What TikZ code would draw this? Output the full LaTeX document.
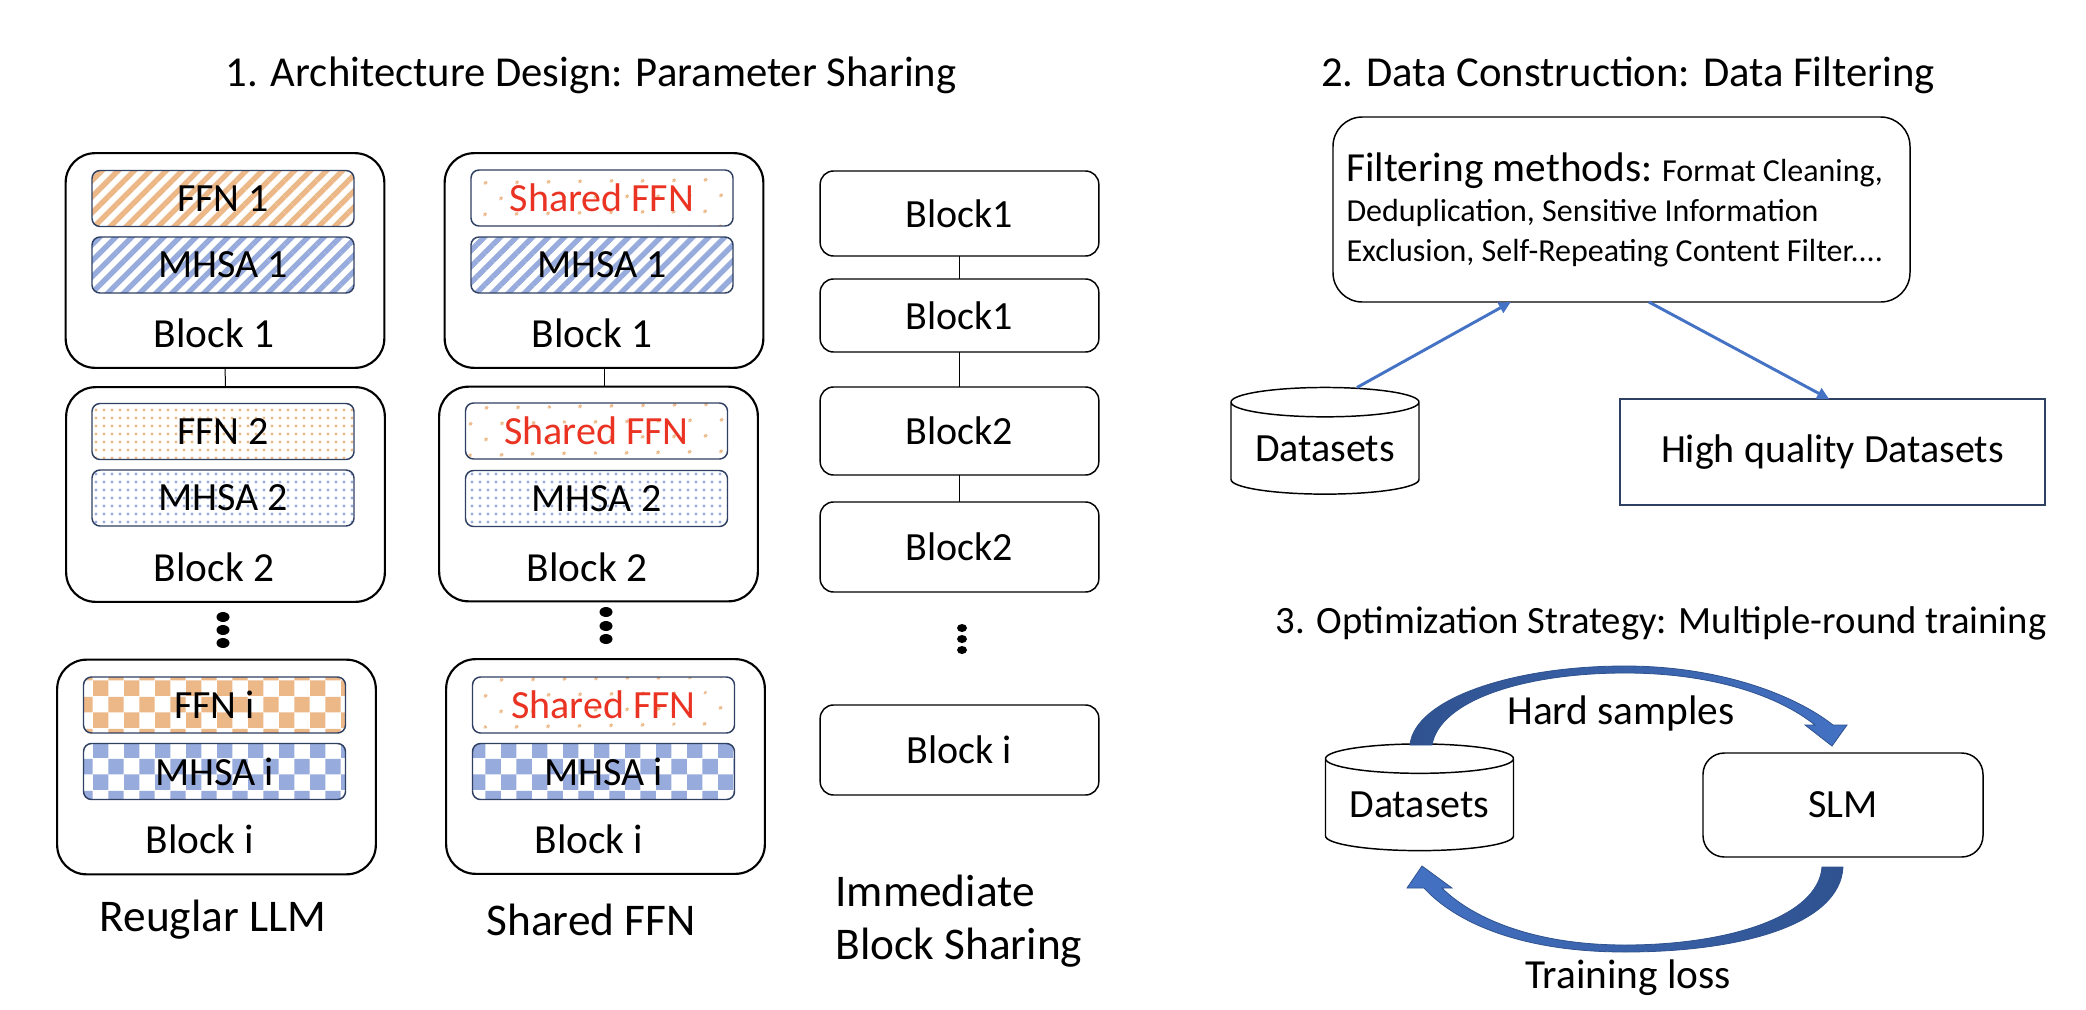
\documentclass[tikz,border=0pt]{standalone}
\usepackage{fontspec}
\setmainfont{Carlito}
\usetikzlibrary{arrows.meta,patterns.meta,shapes.geometric}

\definecolor{ffnorange}{RGB}{237,184,136}
\definecolor{mhsablue}{RGB}{151,171,221}
\definecolor{boxnavy}{RGB}{47,64,98}
\definecolor{sharedred}{RGB}{234,51,35}
\definecolor{arrowblue}{RGB}{68,114,196}
\definecolor{arrowdark}{RGB}{47,82,143}

\tikzdeclarepattern{
  name=bigchecks,
  type=uncolored,
  bottom left={(0pt,0pt)},
  top right={(23.5pt,23.5pt)},
  tile size={(23.5pt,23.5pt)},
  code={
    \fill (0pt,0pt) rectangle (11.75pt,11.75pt);
    \fill (11.75pt,11.75pt) rectangle (23.5pt,23.5pt);
  }
}

\tikzset{every picture/.style={line width=0.75pt}}
\tikzset{
  blockbox/.style={draw=black, line width=1.6pt, rounded corners=22pt, minimum width=239pt, minimum height=161pt, inner sep=0pt, outer sep=0pt},
  layerbox/.style={draw=boxnavy, line width=1.1pt, rounded corners=6pt, minimum width=196.5pt, minimum height=42pt, inner sep=0pt, outer sep=0pt, font=\fontsize{30}{36}\selectfont},
  stripes/.style={pattern={Lines[angle=45,distance=8.5pt,line width=4pt]}},
  finedots/.style={pattern={Dots[distance=6pt,radius=1.3pt]}},
  sparsedots/.style={pattern={Dots[angle=45,distance=17pt,radius=1.4pt]}},
  checks/.style={pattern=bigchecks},
  stackbox/.style={draw=black, line width=1.1pt, rounded corners=10pt, minimum width=209pt, inner sep=0pt, outer sep=0pt, font=\fontsize{30}{36}\selectfont},
  dbcan/.style={cylinder, shape border rotate=90, aspect=0.21, draw=black, line width=1.1pt, fill=white, minimum width=141pt, minimum height=80pt, inner sep=0pt, outer sep=0pt, font=\fontsize{30}{36}\selectfont},
  blocktxt/.style={inner sep=0.75pt, font=\fontsize{31}{36}\selectfont},
  captxt/.style={inner sep=0.75pt, font=\fontsize{34}{40}\selectfont},
  headtxt/.style={inner sep=0.75pt, font=\fontsize{32}{38}\selectfont},
  smalltxt/.style={inner sep=0.75pt, font=\fontsize{24}{30}\selectfont},
  flowarrow/.style={draw=arrowblue, line width=2.2pt, -{Triangle[length=9pt,width=8.5pt]}}
}

\begin{document}
\begin{tikzpicture}[x=0.75pt,y=0.75pt,yscale=-1,xscale=1]
%set diagram left start at 0, and has size of 2086 x 1010
\useasboundingbox[fill=white] (0,0) rectangle (2086,1010);

% Text Node
\node (t1) [headtxt] at (591,75) {1. Architecture Design: Parameter Sharing};
% Text Node
\node (t2) [headtxt] at (1628,75) {2. Data Construction: Data Filtering};
% Text Node
\node (t3) [headtxt, anchor=east, font=\fontsize{29}{36}\selectfont] at (2048,623) {3. Optimization Strategy: Multiple-round training};

%Rounded Rect [id:lb1]
\node (lb1) [blockbox] at (225,260.5) {};
\node (lffn1) [layerbox, stripes, pattern color=ffnorange] at (223,198.5) {FFN 1};
\node (lmhsa1) [layerbox, stripes, pattern color=mhsablue] at (223,265) {MHSA 1};
\node (lb1t) [blocktxt] at (214,333) {Block 1};
%Rounded Rect [id:lb2]
\node (lb2) [blockbox] at (225.5,494.5) {};
\node (lffn2) [layerbox, finedots, pattern color=ffnorange] at (223,431.5) {FFN 2};
\node (lmhsa2) [layerbox, finedots, pattern color=mhsablue] at (223,498) {MHSA 2};
\node (lb2t) [blocktxt] at (214,567) {Block 2};
%Rounded Rect [id:lbi]
\node (lbi) [blockbox] at (216.5,767) {};
\node (lffni) [layerbox, checks, pattern color=ffnorange] at (214.5,705) {FFN i};
\node (lmhsai) [layerbox, checks, pattern color=mhsablue] at (214.5,771.5) {MHSA i};
\node (lbit) [blocktxt] at (200,839) {Block i};
%Straight Lines
\draw (lb1) -- (lb2);
%Shape: Ellipse
\fill (223,617) ellipse [x radius=6.5, y radius=5];
\fill (223,630) ellipse [x radius=6.5, y radius=5];
\fill (223,643) ellipse [x radius=6.5, y radius=5];
% Text Node
\node (cap1) [captxt] at (213,920) {Reuglar LLM};

%Rounded Rect [id:mb1]
\node (mb1) [blockbox] at (604,260.5) {};
\node (mffn1) [layerbox, sparsedots, pattern color=ffnorange, text=sharedred] at (602,198) {Shared FFN};
\node (mmhsa1) [layerbox, stripes, pattern color=mhsablue] at (602,265) {MHSA 1};
\node (mb1t) [blocktxt] at (592,333) {Block 1};
%Rounded Rect [id:mb2]
\node (mb2) [blockbox] at (598.5,494) {};
\node (mffn2) [layerbox, sparsedots, pattern color=ffnorange, text=sharedred] at (596.5,431) {Shared FFN};
\node (mmhsa2) [layerbox, finedots, pattern color=mhsablue] at (596.5,498.5) {MHSA 2};
\node (mb2t) [blocktxt] at (587,567) {Block 2};
%Rounded Rect [id:mbi]
\node (mbi) [blockbox] at (605.5,766.5) {};
\node (mffni) [layerbox, sparsedots, pattern color=ffnorange, text=sharedred] at (603.5,705) {Shared FFN};
\node (mmhsai) [layerbox, checks, pattern color=mhsablue] at (603.5,771.5) {MHSA i};
\node (mbit) [blocktxt] at (589,839) {Block i};
%Straight Lines
\draw (mb1.south) -- (mb1.south |- mb2.north);
%Shape: Ellipse
\fill (606,612) ellipse [x radius=6.5, y radius=5];
\fill (606,626) ellipse [x radius=6.5, y radius=5];
\fill (606,639) ellipse [x radius=6.5, y radius=5];
% Text Node
\node (cap2) [captxt] at (591,920) {Shared FFN};

%Rounded Rect [id:r1a]
\node (r1a) [stackbox, minimum height=63.75pt] at (959.5,213.5) {Block1};
\node (r1b) [stackbox, minimum height=54.75pt] at (959.5,315.5) {Block1};
\node (r2a) [stackbox, minimum height=66pt] at (959.5,431) {Block2};
\node (r2b) [stackbox, minimum height=67.5pt] at (959.5,547) {Block2};
\node (rbi) [stackbox, minimum height=67.5pt] at (959.5,750) {Block i};
%Straight Lines
\draw (r1a) -- (r1b);
\draw (r1b) -- (r2a);
\draw (r2a) -- (r2b);
%Shape: Ellipse
\fill (962,628) ellipse [x radius=5, y radius=4];
\fill (962,639) ellipse [x radius=5, y radius=4];
\fill (962,650) ellipse [x radius=5, y radius=4];
% Text Node
\node (cap3) [captxt, anchor=west, align=left] at (834,921) {Immediate\\Block Sharing};

%Rounded Rect [id:filt]
\node (filt) [draw=black, line width=1.1pt, rounded corners=22pt, minimum width=432.75pt, minimum height=138.75pt, inner sep=0pt, outer sep=0pt] at (1621.5,209.5) {};
% Text Node
\node (filt1) [smalltxt, anchor=base west] at (1345,181) {{\fontsize{31}{36}\selectfont Filtering methods:} Format Cleaning,};
\node (filt2) [smalltxt, anchor=base west] at (1345,221) {Deduplication, Sensitive Information};
\node (filt3) [smalltxt, anchor=base west] at (1345,261) {Exclusion, Self-Repeating Content Filter....};
%Shape: Can [id:ds2]
\node (ds2) [dbcan] at (1325,448.5) {Datasets};
%Shape: Rectangle [id:hq]
\node (hq) [draw=boxnavy, line width=1.5pt, minimum width=318.75pt, minimum height=79.5pt, inner sep=0pt, outer sep=0pt, font=\fontsize{30}{36}\selectfont] at (1832.5,452) {High quality Datasets};
%Straight Lines
\draw [flowarrow] ([xshift=24pt]ds2.north) -- ([xshift=-83pt]filt.south);
\draw [flowarrow] ([xshift=20.5pt]filt.south) -- ([xshift=-2.5pt]hq.north);

%Shape: Can [id:ds3]
\node (ds3) [dbcan] at (1419.5,805) {Datasets};
%Rounded Rect [id:slm]
\node (slm) [draw=black, line width=1.1pt, rounded corners=16pt, minimum width=210pt, minimum height=78pt, inner sep=0pt, outer sep=0pt, font=\fontsize{30}{36}\selectfont] at (1843,805) {SLM};
%Curved Arrow
\path [draw=arrowdark, line width=0.6pt, left color=arrowdark, right color=arrowblue]
  (1410,745) .. controls (1414,700) and (1510,666) .. (1625,666)
  .. controls (1720,666) and (1795,695) .. (1833,725)
  -- (1847,725) -- (1832,746) -- (1805,725) -- (1815,725)
  .. controls (1780,697) and (1715,673) .. (1625,673)
  .. controls (1525,673) and (1440,700) .. (1432,745) -- cycle;
%Curved Arrow
\path [draw=arrowdark, line width=0.6pt, left color=arrowblue, right color=arrowdark]
  (1843,867) .. controls (1840,925) and (1740,952) .. (1625,952)
  .. controls (1520,952) and (1455,922) .. (1424,888)
  -- (1407,888) -- (1422,866) -- (1452,888) -- (1442,888)
  .. controls (1470,916) and (1530,945) .. (1625,945)
  .. controls (1725,945) and (1818,918) .. (1822,867) -- cycle;
% Text Node
\node (hard) [blocktxt] at (1621,713) {Hard samples};
% Text Node
\node (loss) [blocktxt] at (1628,978) {Training loss};
\end{tikzpicture}
\end{document}
